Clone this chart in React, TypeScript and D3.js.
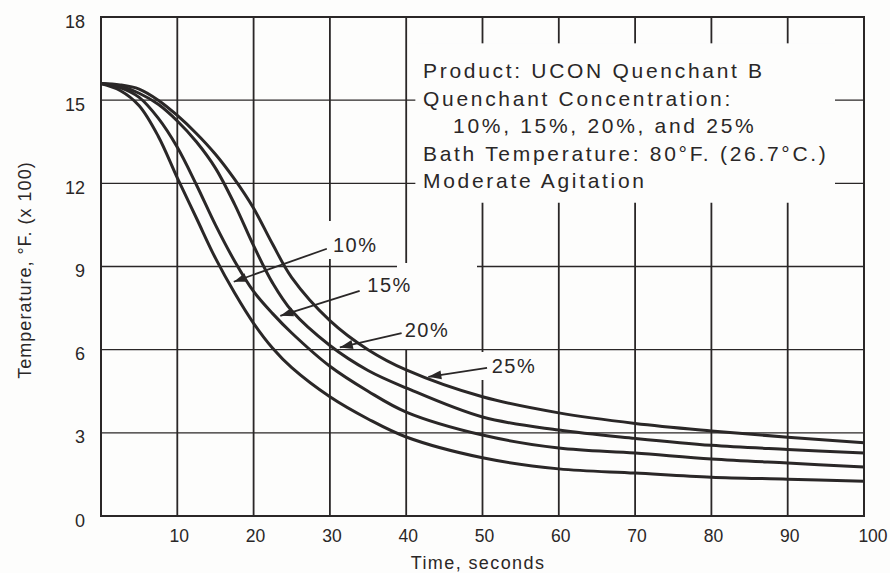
import React from "react";
import * as d3 from "d3";

// time (s) vs temperature (°F x 100)
const times = [0, 2.5, 5, 7.5, 10, 12.5, 15, 17.5, 20, 22.5, 25, 30, 35, 40, 50, 60, 70, 80, 90, 100];
const temp10 = [15.6, 15.35, 14.8, 13.7, 12.2, 10.75, 9.3, 8.05, 6.95, 6.05, 5.35, 4.3, 3.5, 2.85, 2.1, 1.7, 1.55, 1.4, 1.33, 1.25];
const temp15 = [15.6, 15.45, 15.1, 14.35, 13.3, 11.95, 10.5, 9.2, 8.1, 7.3, 6.6, 5.4, 4.5, 3.75, 2.92, 2.45, 2.27, 2.06, 1.91, 1.77];
const temp20 = [15.6, 15.5, 15.25, 14.85, 14.25, 13.5, 12.55, 11.25, 9.75, 8.4, 7.4, 6.15, 5.25, 4.62, 3.57, 3.1, 2.8, 2.55, 2.4, 2.27];
const temp25 = [15.6, 15.55, 15.4, 15.0, 14.45, 13.8, 13.05, 12.15, 11.1, 9.8, 8.6, 7.05, 6.0, 5.27, 4.3, 3.72, 3.34, 3.07, 2.84, 2.64];

const xTicks = [10, 20, 30, 40, 50, 60, 70, 80, 90, 100];
const yTicks = [0, 3, 6, 9, 12, 15, 18];

const seriesLabels = ["10%", "15%", "20%", "25%"];
// arrow [from t, from T], [tip t, tip T] and label position in data units
const arrowFrom = [[29.6, 9.64], [33.9, 8.12], [39.4, 6.6], [50.6, 5.34]];
const arrowTip = [[17.4, 8.45], [23.5, 7.22], [31.3, 6.08], [42.9, 5.02]];
const labelAt = [[30.4, 9.53], [34.9, 8.09], [39.8, 6.46], [51.2, 5.16]];

const noteLines = [
  "Product: UCON Quenchant B",
  "Quenchant Concentration:",
  "10%, 15%, 20%, and 25%",
  "Bath Temperature: 80°F. (26.7°C.)",
  "Moderate Agitation",
];

const W = 890;
const H = 573;
const ink = "#2a2727";
const paper = "#fdfdfc";
const font = "'Liberation Sans', Arial, Helvetica, sans-serif";

export default function App() {
  const x = d3.scaleLinear().domain([0, 100]).range([101, 864]);
  const y = d3.scaleLinear().domain([0, 18]).range([516, 17]);

  const line = d3
    .line<number>()
    .x((d, i) => x(times[i]))
    .y((d) => y(d))
    .curve(d3.curveCatmullRom.alpha(0.5));

  const series = [temp10, temp15, temp20, temp25];

  // blank area behind the note box (grid is broken there)
  const boxX0 = x(41.2);
  const boxX1 = x(96.2);
  const boxY0 = y(17.05);
  const boxY1 = y(11.3);

  const arrowHead = (fx: number, fy: number, tx: number, ty: number) => {
    const a = Math.atan2(ty - fy, tx - fx);
    const len = 13;
    const half = 4.5;
    const bx = tx - len * Math.cos(a);
    const by = ty - len * Math.sin(a);
    const px = -Math.sin(a) * half;
    const py = Math.cos(a) * half;
    return `M${tx},${ty}L${bx + px},${by + py}L${bx - px},${by - py}Z`;
  };

  return (
    <div style={{ position: "absolute", left: 0, top: 0 }}>
      <svg width={W} height={H} style={{ display: "block", background: paper }}>
        {/* grid */}
        {xTicks.slice(0, -1).map((t) => (
          <line key={"vx" + t} x1={x(t)} x2={x(t)} y1={y(18)} y2={y(0)} stroke={ink} strokeWidth={1.8} />
        ))}
        {yTicks.slice(1, -1).map((v) => (
          <line key={"hy" + v} x1={x(0)} x2={x(100)} y1={y(v)} y2={y(v)} stroke={ink} strokeWidth={1.3} />
        ))}

        {/* paper showing through behind the note and the labels */}
        <rect x={boxX0} y={boxY0} width={boxX1 - boxX0} height={boxY1 - boxY0} fill={paper} />
        <rect x={320} y={221} width={66} height={38} fill={paper} />
        <rect x={362} y={272} width={54} height={24} fill={paper} />
        <rect x={397} y={263} width={80} height={86} fill={paper} />
        <rect x={479} y={352} width={68} height={28} fill={paper} />

        {/* frame */}
        <rect x={x(0)} y={y(18)} width={x(100) - x(0)} height={y(0) - y(18)} fill="none" stroke={ink} strokeWidth={2} />

        {/* curves */}
        {series.map((s, i) => (
          <path key={"s" + i} d={line(s) || ""} fill="none" stroke={ink} strokeWidth={3} strokeLinejoin="round" />
        ))}

        {/* arrows + labels */}
        {seriesLabels.map((lab, i) => {
          const fx = x(arrowFrom[i][0]);
          const fy = y(arrowFrom[i][1]);
          const tx = x(arrowTip[i][0]);
          const ty = y(arrowTip[i][1]);
          return (
            <g key={"a" + i}>
              <line x1={fx} y1={fy} x2={tx} y2={ty} stroke={ink} strokeWidth={1.8} />
              <path d={arrowHead(fx, fy, tx, ty)} fill={ink} />
              <text
                x={x(labelAt[i][0])}
                y={y(labelAt[i][1])}
                fontFamily={font}
                fontSize={20}
                letterSpacing={1.5}
                fill={ink}
              >
                {lab}
              </text>
            </g>
          );
        })}

        {/* note */}
        {noteLines.map((t, i) => (
          <text
            key={"n" + i}
            x={i === 2 ? 453 : 423}
            y={78 + i * 27.5}
            fontFamily={font}
            fontSize={21}
            letterSpacing={2.7}
            fill={ink}
          >
            {t}
          </text>
        ))}

        {/* tick labels */}
        {yTicks.map((v) => (
          <text
            key={"yl" + v}
            x={85}
            y={y(v) + 10.5}
            textAnchor="end"
            fontFamily={font}
            fontSize={18}
            fill={ink}
          >
            {v}
          </text>
        ))}
        {xTicks.map((t) => (
          <text
            key={"xl" + t}
            x={x(t) + (t === 100 ? 9 : 2)}
            y={541.5}
            textAnchor="middle"
            fontFamily={font}
            fontSize={17.5}
            fill={ink}
          >
            {t}
          </text>
        ))}

        {/* axis titles */}
        <text
          x={478}
          y={569}
          textAnchor="middle"
          fontFamily={font}
          fontSize={18}
          letterSpacing={1.4}
          fill={ink}
        >
          Time, seconds
        </text>
        <text
          transform={`translate(31, 270) rotate(-90)`}
          textAnchor="middle"
          fontFamily={font}
          fontSize={18}
          letterSpacing={1}
          fill={ink}
        >
          Temperature, °F. (x 100)
        </text>
      </svg>
    </div>
  );
}
